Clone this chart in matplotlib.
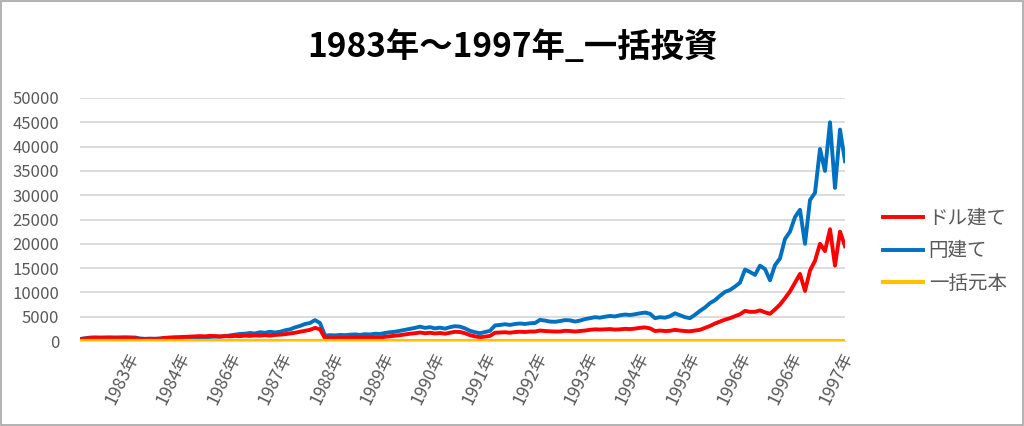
import numpy as np
import matplotlib
matplotlib.use("Agg")
import matplotlib.pyplot as plt
from matplotlib.patches import Rectangle
from matplotlib.transforms import ScaledTranslation

plt.rcParams['font.family'] = ['Noto Sans CJK JP', 'DejaVu Sans']

title = "1983年～1997年_一括投資"
series_names = ["ドル建て", "円建て", "一括元本"]
tick_labels = ["1983年", "1984年", "1986年", "1987年", "1988年", "1989年", "1990年",
               "1991年", "1992年", "1993年", "1994年", "1995年", "1996年", "1996年", "1997年"]

yen_values = [
    400, 550, 700, 750, 720, 740, 760, 730, 750, 770, 740, 720,
    500, 450, 480, 460, 500,
    620, 650, 700, 680, 720, 760, 740, 800, 780, 850, 900, 880,
    1000, 1150, 1300, 1450, 1500, 1650, 1550, 1800, 1700, 1900, 1750,
    1900, 2200, 2400, 2800, 3100, 3500, 3700, 4300, 3700,
    1100, 1200, 1150, 1250, 1200, 1300, 1350, 1250, 1400, 1350, 1500, 1450,
    1650, 1800, 1900, 2100, 2300, 2500, 2700, 2950, 2700, 2850, 2600, 2750,
    2550, 2850, 3050, 2950, 2600, 2100, 1800, 1600, 1850, 2100,
    3200, 3300, 3450, 3300, 3500, 3600, 3500, 3650, 3700, 4350, 4200, 4000,
    3950, 4100, 4300, 4250, 4000, 4200, 4500, 4700, 4900, 4800, 5000, 5150,
    5050, 5300, 5450, 5350, 5500, 5700, 5850, 5600, 4700, 4900, 4800, 5100,
    5700, 5300, 4900, 4700, 5400, 6200, 6900, 7800, 8400, 9300, 10100, 10500,
    11200, 12000, 14700, 14200, 13600, 15500, 14800, 12500, 15600,
    17000, 21000, 22500, 25500, 27000, 20000, 29000, 30500, 39500, 35000,
    45000, 31500, 43500, 37000,
]

usd_values = [
    400, 500, 600, 620, 600, 600, 620, 590, 600, 610, 590, 580,
    450, 420, 440, 430, 480,
    650, 700, 760, 800, 850, 900, 950, 1000, 950, 1050, 1000, 950,
    1000, 950, 1050, 1000, 1100, 1050, 1150, 1100, 1200, 1100, 1250,
    1300, 1400, 1550, 1700, 1900, 2100, 2300, 2700, 2400,
    550, 600, 580, 620, 600, 650, 680, 640, 700, 680, 760, 740,
    850, 950, 1050, 1200, 1350, 1500, 1600, 1750, 1600, 1700, 1550, 1650,
    1500, 1700, 1900, 1850, 1600, 1200, 950, 780, 900, 1050,
    1700, 1750, 1800, 1700, 1850, 1900, 1850, 1950, 1950, 2150, 2050, 2000,
    1950, 1950, 2100, 2050, 1950, 2050, 2150, 2300, 2400, 2350, 2400, 2450,
    2350, 2400, 2500, 2450, 2550, 2700, 2800, 2600, 2050, 2150, 2050, 2100,
    2300, 2150, 2050, 2000, 2150, 2300, 2700, 3100, 3600, 4000, 4400, 4700,
    5100, 5500, 6200, 6000, 6000, 6300, 5900, 5600, 6500,
    7500, 8800, 10200, 12000, 13800, 10300, 14500, 16500, 20000, 18500,
    23000, 15500, 22500, 19500,
]

principal = 100

n = len(yen_values)
x = np.arange(n)

fig = plt.figure(figsize=(10.24, 4.26), dpi=100)
ax = fig.add_axes([80/1024, 85/426, 765/1024, 243/426])

l1, = ax.plot(x, usd_values, color="#FF0000", lw=2.8, solid_joinstyle="round", zorder=3)
l2, = ax.plot(x, yen_values, color="#0070C0", lw=2.8, solid_joinstyle="round", zorder=2)
l3, = ax.plot(x, np.full(n, principal), color="#FFC000", lw=3.0, zorder=4)

ax.set_xlim(0, n - 1)
ax.set_ylim(0, 50000)
ax.set_yticks(np.arange(0, 50001, 5000))
ax.yaxis.grid(True, color="#D9D9D9", lw=1.3)
ax.set_axisbelow(True)
for s in ["left", "right", "top"]:
    ax.spines[s].set_visible(False)
ax.spines["bottom"].set_color("#D9D9D9")
ax.tick_params(axis="y", length=0, pad=15, labelsize=12, labelcolor="#595959")

span = n - 1
ticks = [(k + 1) * span / len(tick_labels) for k in range(len(tick_labels))]
ax.set_xticks(ticks)
ax.set_xticklabels(tick_labels, rotation=64, ha="right", va="center",
                   rotation_mode="anchor")
ax.tick_params(axis="x", length=0, pad=9, labelsize=12.5, labelcolor="#595959")
shift = ScaledTranslation(0.04, 0, fig.dpi_scale_trans)
for lab in ax.get_xticklabels():
    lab.set_transform(lab.get_transform() + shift)

fig.text(0.5, 1 - 47/426, title, ha="center", va="center", fontsize=24,
         fontweight="bold", color="#000000")

fig.legend([l1, l2, l3], series_names, loc="center left",
           bbox_to_anchor=(883/1024, 1 - 251/426), frameon=False,
           borderpad=0, borderaxespad=0,
           fontsize=14, handlelength=2.05, handletextpad=0.3,
           labelspacing=0.6, labelcolor="#595959")

fig.add_artist(Rectangle((0.5/1024, 1.5/426), 1 - 2/1024, 1 - 2.5/426,
                         transform=fig.transFigure, fill=False,
                         edgecolor="#A6A6A6", lw=1.2))

fig.savefig("out.png", dpi=100)
